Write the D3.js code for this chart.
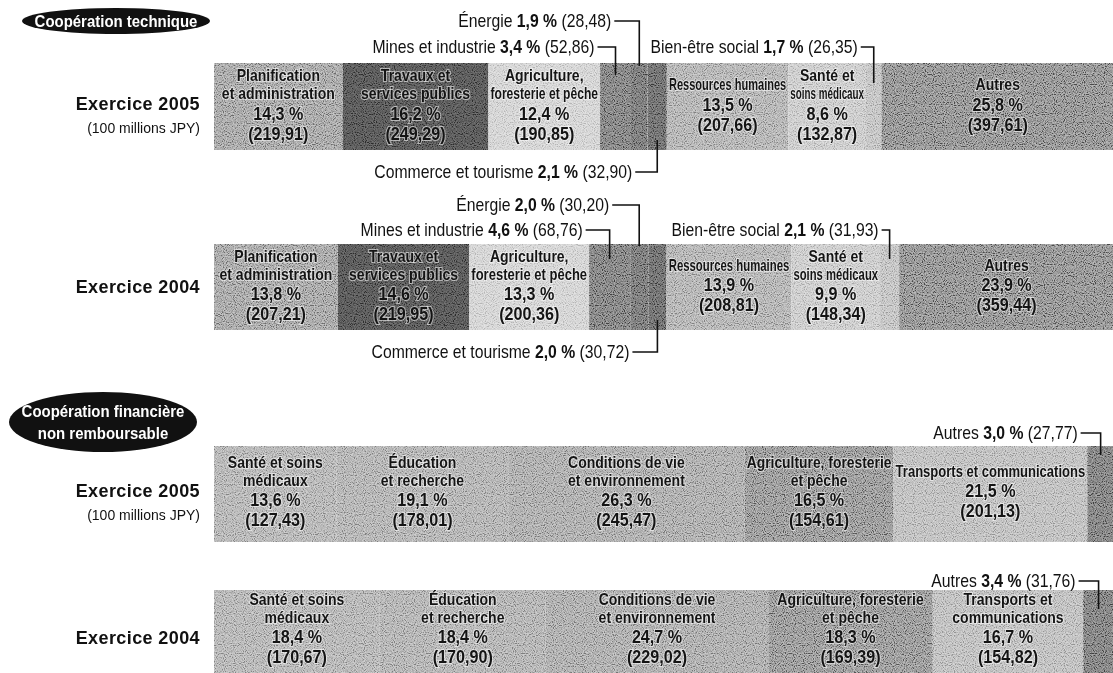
<!DOCTYPE html>
<html>
<head>
<meta charset="utf-8">
<script src="https://cdn.jsdelivr.net/npm/d3@7"></script>
<style>
  html, body { margin: 0; padding: 0; background: #fff; }
  svg { display: block; }
  text { font-family: "Liberation Sans", Arial, Helvetica, sans-serif; }
</style>
</head>
<body>
<svg id="chart" width="1113" height="673"></svg>
<script>
// ---------------- DATA ----------------
const techCategories = ["Planification et administration", "Travaux et services publics", "Agriculture, foresterie et pêche", "Mines et industrie", "Énergie", "Commerce et tourisme", "Ressources humaines", "Santé et soins médicaux", "Bien-être social", "Autres"];
const tech2005Values = [219.91, 249.29, 190.85, 52.86, 28.48, 32.90, 207.66, 132.87, 26.35, 397.61];
const tech2005Pct    = [14.3, 16.2, 12.4, 3.4, 1.9, 2.1, 13.5, 8.6, 1.7, 25.8];
const tech2004Values = [207.21, 219.95, 200.36, 68.76, 30.20, 30.72, 208.81, 148.34, 31.93, 359.44];
const tech2004Pct    = [13.8, 14.6, 13.3, 4.6, 2.0, 2.0, 13.9, 9.9, 2.1, 23.9];

const finCategories = ["Santé et soins médicaux", "Éducation et recherche", "Conditions de vie et environnement", "Agriculture, foresterie et pêche", "Transports et communications", "Autres"];
const fin2005Values = [127.43, 178.01, 245.47, 154.61, 201.13, 27.77];
const fin2005Pct    = [13.6, 19.1, 26.3, 16.5, 21.5, 3.0];
const fin2004Values = [170.67, 170.90, 229.02, 169.39, 154.82, 31.76];
const fin2004Pct    = [18.4, 18.4, 24.7, 18.3, 16.7, 3.4];

// in-bar label lines (null = labelled outside with a callout)
const techNames2005 = [["Planification","et administration"],["Travaux et","services publics"],["Agriculture,","foresterie et pêche"],null,null,null,["Ressources humaines"],["Santé et","soins médicaux"],null,["Autres"]];
const techNames2004 = [["Planification","et administration"],["Travaux et","services publics"],["Agriculture,","foresterie et pêche"],null,null,null,["Ressources humaines"],["Santé et","soins médicaux"],null,["Autres"]];
const finNames2005 = [["Santé et soins","médicaux"],["Éducation","et recherche"],["Conditions de vie","et environnement"],["Agriculture, foresterie","et pêche"],["Transports et communications"],null];
const finNames2004 = [["Santé et soins","médicaux"],["Éducation","et recherche"],["Conditions de vie","et environnement"],["Agriculture, foresterie","et pêche"],["Transports et","communications"],null];

const sectionTitles = [["Coopération technique"], ["Coopération financière","non remboursable"]];
const rowLabels = ["Exercice 2005", "Exercice 2004", "Exercice 2005", "Exercice 2004"];
const unitLabel = "(100 millions JPY)";

// ---------------- STYLE / LAYOUT ----------------
const techColors = ["#999999","#4f4f4f","#cdcdcd","#747474","#6c6c6c","#636363","#a8a8a8","#c4c4c4","#bababa","#828282"];
const finColors  = ["#aaaaaa","#a7a7a7","#a0a0a0","#898989","#b5b5b5","#737373"];

const rows = [
  {label: rowLabels[0], unit: true,  values: tech2005Values, pct: tech2005Pct, names: techNames2005, cats: techCategories, colors: techColors, top: 63,  h: 87, shift: -2},
  {label: rowLabels[1], unit: false, values: tech2004Values, pct: tech2004Pct, names: techNames2004, cats: techCategories, colors: techColors, top: 244, h: 86, shift: -2},
  {label: rowLabels[2], unit: true,  values: fin2005Values,  pct: fin2005Pct,  names: finNames2005,  cats: finCategories,  colors: finColors,  top: 446, h: 96, shift: -3},
  {label: rowLabels[3], unit: false, values: fin2004Values,  pct: fin2004Pct,  names: finNames2004,  cats: finCategories,  colors: finColors,  top: 590, h: 96, shift: -10}
];

// callouts for narrow segments
const callouts = [
  {row: 0, idx: 4, side: "top",    ty: 21,  reach: 3,  gap: 25},
  {row: 0, idx: 3, side: "top",    ty: 47,  reach: 12, gap: 18},
  {row: 0, idx: 8, side: "top",    ty: 47,  reach: 20, gap: 13},
  {row: 0, idx: 5, side: "bottom", ty: 172, reach: 10, gap: 22},
  {row: 1, idx: 4, side: "top",    ty: 205, reach: 2,  gap: 27},
  {row: 1, idx: 3, side: "top",    ty: 230, reach: 15, gap: 24},
  {row: 1, idx: 8, side: "top",    ty: 230, reach: 15, gap: 8},
  {row: 1, idx: 5, side: "bottom", ty: 352, reach: 10, gap: 25},
  {row: 2, idx: 5, side: "top",    ty: 433, reach: 9,  gap: 20},
  {row: 3, idx: 5, side: "top",    ty: 581, reach: 19, gap: 20}
];

const badges = [
  {cx: 116, cy: 21,  rx: 94, ry: 13, lines: sectionTitles[0], y0: 21, lh: 0},
  {cx: 103, cy: 422, rx: 94, ry: 30, lines: sectionTitles[1], y0: 411, lh: 22}
];

const fmtPct = v => v.toFixed(1).replace(".", ",") + " %";
const fmtVal = v => "(" + v.toFixed(2).replace(".", ",") + ")";

const svg = d3.select("#chart");
const X0 = 214, X1 = 1114;

// grain texture to suggest the printed dithering
const defs = svg.append("defs");
const f = defs.append("filter").attr("id", "grain")
  .attr("x", 0).attr("y", 0).attr("width", 1).attr("height", 1);
f.append("feTurbulence").attr("type", "fractalNoise").attr("baseFrequency", 0.9)
  .attr("numOctaves", 1).attr("seed", 7).attr("result", "t");
f.append("feColorMatrix").attr("in", "t").attr("type", "matrix")
  .attr("values", "1 0 0 0 0  1 0 0 0 0  1 0 0 0 0  0 0 0 0 1").attr("result", "g");
const ct = f.append("feComponentTransfer").attr("in", "g");
["feFuncR", "feFuncG", "feFuncB"].forEach(n => ct.append(n).attr("type", "linear").attr("slope", 3).attr("intercept", -1));

// Badges
badges.forEach(b => {
  const g = svg.append("g");
  g.append("ellipse").attr("cx", b.cx).attr("cy", b.cy).attr("rx", b.rx).attr("ry", b.ry).attr("fill", "#111");
  b.lines.forEach((ln, i) => {
    g.append("text")
      .attr("transform", `translate(${b.cx},${b.y0 + i * b.lh}) scale(0.88,1)`)
      .attr("text-anchor", "middle").attr("dominant-baseline", "central")
      .attr("font-size", 17).attr("font-weight", "bold").attr("fill", "#fff")
      .text(ln);
  });
});

// Rows
rows.forEach((r, ri) => {
  const total = d3.sum(r.values);
  r.x = d3.scaleLinear().domain([0, total]).range([X0, X1]);
  const ends = Array.from(d3.cumsum(r.values));
  r.starts = ends.map((e, i) => e - r.values[i]);
  const cy = r.top + r.h / 2;

  const g = svg.append("g");

  // row label
  g.append("text")
    .attr("x", 200).attr("y", r.unit ? cy - 3 : cy)
    .attr("text-anchor", "end").attr("dominant-baseline", "central")
    .attr("font-size", 18).attr("font-weight", "bold").attr("fill", "#111")
    .attr("letter-spacing", 0.4)
    .text(r.label);
  if (r.unit) {
    g.append("text")
      .attr("x", 200).attr("y", cy + 21)
      .attr("text-anchor", "end").attr("dominant-baseline", "central")
      .attr("font-size", 14).attr("fill", "#111")
      .text(unitLabel);
  }

  // segments
  g.selectAll("rect.seg").data(r.values).enter().append("rect")
    .attr("class", "seg")
    .attr("x", (d, i) => r.x(r.starts[i]))
    .attr("width", (d, i) => r.x(r.starts[i] + d) - r.x(r.starts[i]))
    .attr("y", r.top).attr("height", r.h)
    .attr("fill", (d, i) => r.colors[i]);

  // grain overlay
  g.append("rect")
    .attr("x", r.x(0)).attr("width", r.x(total) - r.x(0))
    .attr("y", r.top).attr("height", r.h)
    .attr("filter", "url(#grain)")
    .style("mix-blend-mode", "overlay")
    .attr("opacity", 0.45);

  // in-bar labels
  r.values.forEach((v, i) => {
    const names = r.names[i];
    if (!names) return;
    const x0 = r.x(r.starts[i]), x1 = r.x(r.starts[i] + v);
    const mx = (x0 + x1) / 2;
    const avail = x1 - x0 - 4;
    const lines = [];
    let y = 0;
    names.forEach((n, k) => { lines.push({t: n, y: y, fs: 16.5}); y += (k < names.length - 1) ? 18 : 20; });
    lines.push({t: fmtPct(r.pct[i]), y: y, fs: 19}); y += 20;
    lines.push({t: fmtVal(v), y: y, fs: 19});
    const off = cy + r.shift - y / 2;
    lines.forEach(l => {
      const t = g.append("text")
        .attr("text-anchor", "middle").attr("dominant-baseline", "central")
        .attr("font-size", l.fs).attr("font-weight", "bold")
        .attr("fill", "#141414")
        .attr("stroke", "#ffffff").attr("stroke-opacity", 0.55).attr("stroke-width", 2.2)
        .attr("paint-order", "stroke")
        .text(l.t);
      const len = t.node().getComputedTextLength();
      const sx = Math.min(0.85, avail / len);
      t.attr("transform", `translate(${mx},${off + l.y}) scale(${sx},1)`);
    });
  });
});

// Callouts
callouts.forEach(c => {
  const r = rows[c.row];
  const v = r.values[c.idx];
  const mx = r.x(r.starts[c.idx] + v / 2);
  const x0 = mx - c.gap;
  const yEnd = c.side === "top" ? r.top + c.reach : r.top + r.h - c.reach;
  svg.append("path")
    .attr("d", `M${x0},${c.ty}H${mx}V${yEnd}`)
    .attr("fill", "none").attr("stroke", "#111").attr("stroke-width", 1.6);
  const t = svg.append("text")
    .attr("transform", `translate(${x0 - 3},${c.ty}) scale(0.9,1)`)
    .attr("text-anchor", "end").attr("dominant-baseline", "central")
    .attr("font-size", 17.5).attr("fill", "#111");
  t.append("tspan").text(r.cats[c.idx] + " ");
  t.append("tspan").attr("font-weight", "bold").text(fmtPct(r.pct[c.idx]));
  t.append("tspan").text(" " + fmtVal(v));
});
</script>
</body>
</html>
